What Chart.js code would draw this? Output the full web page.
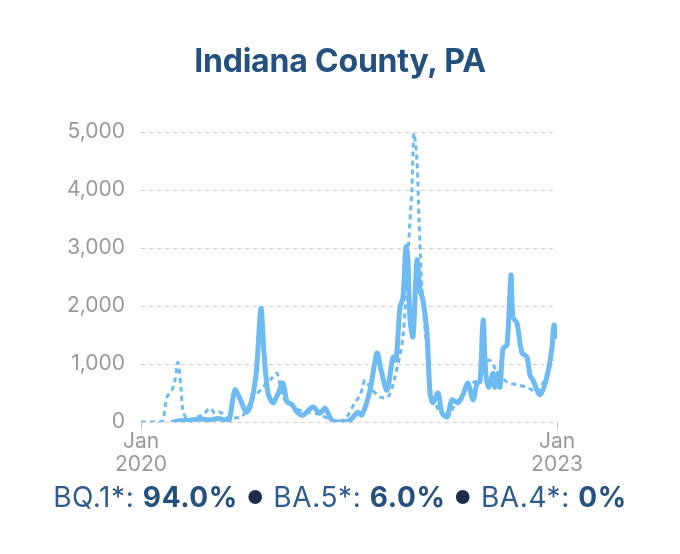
<!DOCTYPE html>
<html>
<head>
<meta charset="utf-8">
<script src="https://cdn.jsdelivr.net/npm/chart.js@4"></script>
<style>
  html, body { margin: 0; padding: 0; background: #fff; }
  #wrap { position: relative; width: 680px; height: 554px; }
  #title {
    position: absolute; left: 0; top: 43px; width: 680px;
    text-align: center; font: 700 32px/36px Inter, sans-serif; color: #24507f;
    letter-spacing: -0.2px;
  }
  #shares {
    position: absolute; left: 0; top: 479px; width: 680px;
    text-align: center; font: 400 28px/36px Inter, sans-serif; color: #2d5d8e;
    letter-spacing: 0.6px; white-space: nowrap;
  }
  #shares b { font-weight: 700; color: #24507f; }
  #shares .dot { color: #1b2d4a; font-size: 18px; vertical-align: 3px; margin: 0 10px 0 9px; letter-spacing: 0; }
  canvas { position: absolute; left: 0; top: 0; }
</style>
</head>
<body>
<div id="wrap">
  <canvas id="chart" width="680" height="554"></canvas>
  <div id="title">Indiana County, PA</div>
  <div id="shares">BQ.1*: <b>94.0%</b><span class="dot">●</span>BA.5*: <b>6.0%</b><span class="dot">●</span>BA.4*: <b>0%</b></div>
</div>
<script>
// x values are months since Jan 2020
const wastewaterMonths = [2.77, 3.37, 4.24, 5.1, 5.97, 6.66, 7.27, 7.6, 8.13, 8.57, 9.09, 9.43, 9.95, 10.38, 10.64, 10.99,
  11.42, 11.77, 12.29, 12.63, 13.07, 13.5, 14.02, 14.88, 15.49, 15.92, 16.53, 17.22, 18.09, 18.78, 19.12, 19.82,
  20.42, 20.77, 21.29, 21.81, 22.07, 22.41, 22.67, 22.93, 23.1, 23.28, 23.54, 23.88, 24.14, 24.4, 24.75, 25.01,
  25.27, 25.7, 26.05, 26.48, 26.91, 27.43, 27.86, 28.3, 28.73, 29.08, 29.34, 29.6, 29.85, 30.11, 30.46, 30.63,
  30.89, 31.07, 31.33, 31.67, 32.02, 32.19, 32.54, 32.97, 33.4, 33.66, 33.92, 34.53, 35.13, 35.57, 35.74, 36.0];
const wastewaterValues = [0, 20, 30, 50, 40, 60, 30, 10, 550, 400, 170, 250, 800, 1960, 1200, 500,
  330, 450, 670, 350, 300, 170, 120, 260, 150, 240, 30, 0, 30, 170, 120, 550,
  1190, 900, 550, 1120, 1070, 1980, 2140, 3020, 2790, 1760, 1470, 2790, 2280, 2100, 1530, 500,
  330, 500, 160, 90, 380, 330, 470, 670, 380, 670, 700, 1760, 800, 600, 840, 600,
  840, 600, 1270, 1330, 2530, 1810, 1700, 1190, 1120, 810, 720, 470, 780, 1290, 1670, 1470];

const caseMonths = [0, 1.64, 1.9, 2.25, 2.68, 2.94, 3.2, 3.46, 3.63, 4.07, 4.93, 5.37, 5.97, 6.4, 6.84, 7.53,
  8.13, 8.74, 9.6, 10.56, 11.34, 11.77, 12.29, 12.89, 13.76, 15.49, 16.36, 17.22, 17.83, 18.52, 18.96, 19.38,
  19.82, 20.68, 21.37, 21.98, 22.67, 23.1, 23.45, 23.62, 23.88, 24.06, 24.31, 24.75, 25.01, 25.61, 26.05, 26.48,
  27.17, 27.78, 28.3, 29.16, 30.11, 30.89, 31.67, 32.54, 33.4, 34.35, 35.13, 35.65];
const caseValues = [0, 0, 30, 430, 550, 720, 1030, 600, 200, 30, 90, 120, 240, 150, 170, 60,
  70, 90, 380, 600, 760, 840, 430, 300, 200, 130, 40, 0, 90, 340, 460, 720,
  600, 430, 430, 780, 1470, 2900, 4050, 4980, 4520, 3480, 2330, 1190, 600, 260, 130, 60,
  300, 450, 650, 720, 1070, 840, 690, 640, 600, 520, 840, 1070];

const xTickMonths = [0, 36];
const xTickLabels = [['Jan', '2020'], ['Jan', '2023']];
const yMax = 5000;
const yStep = 1000;

const lineBlue = '#6dbbf2';
const tickGray = '#999999';

const toPoints = (xs, ys) => xs.map((x, i) => ({ x: x, y: ys[i] }));

new Chart(document.getElementById('chart'), {
  type: 'line',
  data: {
    datasets: [
      {
        label: 'Cases',
        data: toPoints(caseMonths, caseValues),
        borderColor: lineBlue,
        borderWidth: 3,
        borderDash: [5, 4],
        pointRadius: 0,
        tension: 0.3,
        fill: false
      },
      {
        label: 'Wastewater',
        data: toPoints(wastewaterMonths, wastewaterValues),
        borderColor: lineBlue,
        borderWidth: 5,
        pointRadius: 0,
        tension: 0.3,
        borderCapStyle: 'round',
        borderJoinStyle: 'round',
        fill: false
      }
    ]
  },
  options: {
    responsive: false,
    animation: false,
    layout: { padding: { top: 132, right: 123, left: 0, bottom: 0 } },
    plugins: { legend: { display: false }, tooltip: { enabled: false } },
    scales: {
      x: {
        type: 'linear',
        min: 0,
        max: 36,
        afterBuildTicks: (scale) => { scale.ticks = xTickMonths.map(v => ({ value: v })); },
        afterFit: (scale) => { scale.height = 132; },
        ticks: {
          autoSkip: false,
          maxRotation: 0,
          padding: 1,
          color: tickGray,
          font: { family: 'Inter', size: 21, lineHeight: 1.1 },
          callback: (v) => xTickLabels[xTickMonths.indexOf(v)]
        },
        grid: { drawOnChartArea: false, drawTicks: true, tickLength: 7, color: '#c4c4c4' },
        border: { display: false }
      },
      y: {
        min: 0,
        max: yMax,
        afterFit: (scale) => { scale.width = 141; },
        ticks: {
          stepSize: yStep,
          padding: 16,
          color: tickGray,
          font: { family: 'Inter', size: 21 },
          callback: (v) => v.toLocaleString('en-US')
        },
        grid: { drawTicks: false, color: '#cfcfcf', lineWidth: 1 },
        border: { display: false, dash: [4, 4] }
      }
    }
  }
});
</script>
</body>
</html>
